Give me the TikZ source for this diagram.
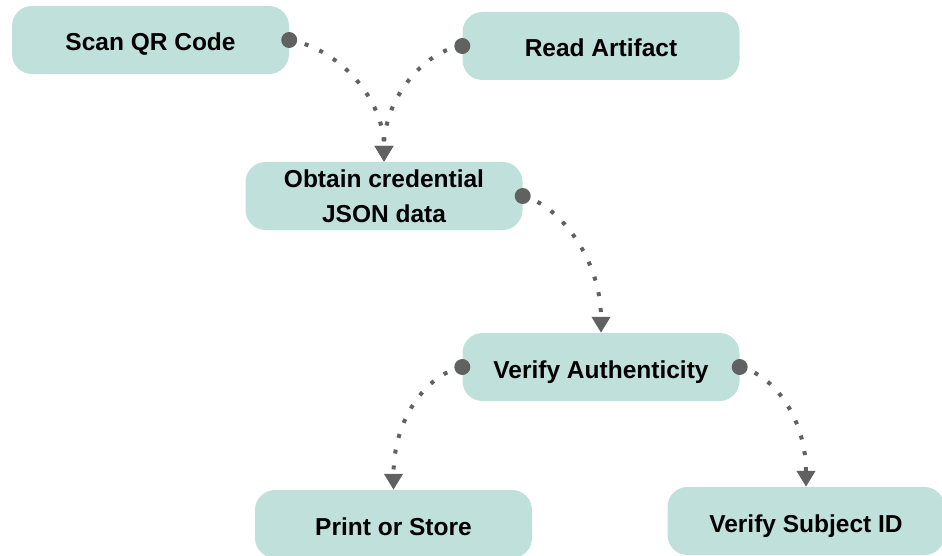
\documentclass[tikz,border=0pt]{standalone}
\usepackage{fontspec}
\setmainfont{Liberation Sans}
\usetikzlibrary{arrows.meta}
\definecolor{boxfill}{HTML}{C0E0DC}
\definecolor{linec}{HTML}{616161}
\tikzset{
  flowbox/.style={draw=none, fill=boxfill, rounded corners=20pt, minimum width=277pt,
    minimum height=68pt, inner sep=0pt, align=center,
    font=\fontsize{24.5}{35}\selectfont\bfseries, text=black},
  oneline/.style={text height=24pt, text depth=2pt},
  conn/.style={draw=linec, line width=4pt, dash pattern=on 4pt off 12pt,
    -{Triangle[width=18pt,length=16pt]}},
  startdot/.style={fill=linec}
}
\begin{document}
\begin{tikzpicture}[x=1pt,y=-1pt]
\useasboundingbox (0,0) rectangle (942,556);
\clip (0,0) rectangle (942,556);
\node[flowbox,oneline] (scan) at (150.5,40) {Scan QR Code};
\node[flowbox,oneline] (read) at (601,46) {Read Artifact};
\node[flowbox] (obtain) at (384,196) {Obtain credential\\JSON data};
\node[flowbox,oneline] (auth) at (601,367) {Verify Authenticity};
\node[flowbox,oneline] (print) at (393.5,524) {Print or Store};
\node[flowbox,oneline] (subject) at (806,521) {Verify Subject ID};
\draw[conn] (scan.east) .. controls +(51,9) and +(0,-62) .. (obtain.north);
\draw[conn] (read.west) .. controls +(-37,4) and +(0,-64) .. (obtain.north);
\draw[conn] (obtain.east) .. controls +(37,9) and +(0,-73) .. (auth.north);
\draw[conn] (auth.west) .. controls +(-37,8) and +(0,-70) .. (print.north);
\draw[conn] (auth.east) .. controls +(35,8) and +(0,-67) .. (subject.north);
\fill[startdot] (scan.east) circle (8);
\fill[startdot] (read.west) circle (8);
\fill[startdot] (obtain.east) circle (8);
\fill[startdot] (auth.west) circle (8);
\fill[startdot] (auth.east) circle (8);
\end{tikzpicture}
\end{document}
